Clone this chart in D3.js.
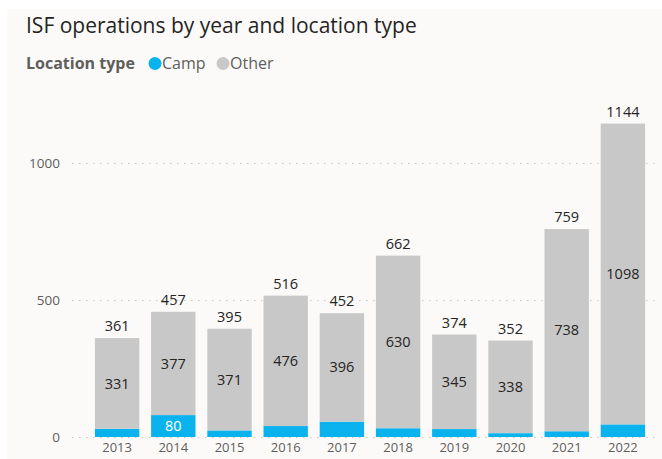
<!DOCTYPE html>
<html>
<head>
<meta charset="utf-8">
<script src="https://cdn.jsdelivr.net/npm/d3@7"></script>
<style>
  body { margin: 0; background: #ffffff; }
  svg { display: block; font-family: "Open Sans", "Noto Sans", sans-serif; }
</style>
</head>
<body>
<svg id="chart" width="662" height="459"></svg>
<script>
// data
const years = ['2013', '2014', '2015', '2016', '2017', '2018', '2019', '2020', '2021', '2022'];
const camp  = [30, 80, 24, 40, 56, 32, 29, 14, 21, 46];
const other = [331, 377, 371, 476, 396, 630, 345, 338, 738, 1098];
const yTicks = [0, 500, 1000];

const colours = { camp: '#0AB3EE', other: '#C8C8C8', text: '#252423', axis: '#605E5C', grid: '#C8C6C4' };

const svg = d3.select('svg#chart');

// panel background
svg.append('rect')
  .attr('x', 7).attr('y', 9)
  .attr('width', 655).attr('height', 450)
  .style('fill', '#FBFAF9');

// title + legend
svg.append('text')
  .attr('x', 26).attr('y', 33)
  .style('font-size', '21px')
  .style('fill', colours.text)
  .text('ISF operations by year and location type');

const legend = svg.append('g').attr('transform', 'translate(26,69)');
legend.append('text')
  .style('font-size', '16px').style('font-weight', 'bold')
  .style('fill', colours.axis)
  .text('Location type');
legend.append('circle').attr('cx', 129).attr('cy', -5.5).attr('r', 6.5).style('fill', colours.camp);
legend.append('text').attr('x', 136).style('font-size', '16px').style('fill', colours.axis).text('Camp');
legend.append('circle').attr('cx', 197).attr('cy', -5.5).attr('r', 6.5).style('fill', colours.other);
legend.append('text').attr('x', 204).style('font-size', '16px').style('fill', colours.axis).text('Other');

// scales
const x = d3.scaleBand()
  .domain(years)
  .range([89, 651])
  .paddingInner(0.21)
  .paddingOuter(0.105);

const y = d3.scaleLinear()
  .domain([0, 1000])
  .range([437, 163]);

// gridlines + y tick labels
const yAxis = svg.append('g')
  .attr('transform', 'translate(72,0)')
  .call(d3.axisLeft(y).tickValues(yTicks).tickSize(-586).tickPadding(12).tickFormat(d3.format('d')));
yAxis.select('.domain').remove();
yAxis.selectAll('line')
  .style('stroke', colours.grid)
  .style('stroke-dasharray', '1.5,5.5');
yAxis.selectAll('text')
  .style('font-size', '13.5px')
  .style('fill', colours.axis)
  .style('font-family', '"Open Sans", sans-serif');

// x axis labels (kept a bit tighter so they stay inside the picture)
const xAxis = svg.append('g')
  .attr('transform', 'translate(0,437)')
  .call(d3.axisBottom(x).tickSize(0).tickPadding(6));
xAxis.select('.domain').remove();
xAxis.selectAll('text')
  .style('font-size', '13px')
  .style('fill', colours.axis)
  .style('font-family', '"Open Sans", sans-serif');

// stacked bars
const rows = years.map(function (d, i) { return { year: d, camp: camp[i], other: other[i], total: camp[i] + other[i] }; });
const stack = d3.stack().keys(['camp', 'other'])(rows);

const layers = svg.selectAll('g.layer')
  .data(stack)
  .enter()
  .append('g')
  .attr('class', 'layer')
  .style('fill', function (d) { return colours[d.key]; });

layers.selectAll('rect')
  .data(function (d) { return d; })
  .enter()
  .append('rect')
  .attr('x', function (d) { return x(d.data.year); })
  .attr('width', x.bandwidth())
  .attr('y', function (d) { return y(d[1]); })
  .attr('height', function (d) { return y(d[0]) - y(d[1]); });

// inner labels for the other segment
svg.append('g').selectAll('text')
  .data(stack[1])
  .enter()
  .append('text')
  .attr('x', function (d) { return x(d.data.year) + x.bandwidth() / 2; })
  .attr('y', function (d) { return (y(d[0]) + y(d[1])) / 2; })
  .attr('dy', '0.35em')
  .attr('text-anchor', 'middle')
  .style('font-size', '14.5px')
  .style('fill', colours.text)
  .text(function (d) { return d[1] - d[0]; });

// camp label only where it fits (2014)
svg.append('g').selectAll('text')
  .data(stack[0].filter(function (d) { return d[1] - d[0] >= 70; }))
  .enter()
  .append('text')
  .attr('x', function (d) { return x(d.data.year) + x.bandwidth() / 2; })
  .attr('y', function (d) { return (y(d[0]) + y(d[1])) / 2; })
  .attr('dy', '0.35em')
  .attr('text-anchor', 'middle')
  .style('font-size', '14.5px')
  .style('fill', '#ffffff')
  .text(function (d) { return d[1] - d[0]; });

// totals above bars
svg.append('g').selectAll('text')
  .data(rows)
  .enter()
  .append('text')
  .attr('x', function (d) { return x(d.year) + x.bandwidth() / 2; })
  .attr('y', function (d) { return y(d.total) - 12; })
  .attr('dy', '0.35em')
  .attr('text-anchor', 'middle')
  .style('font-size', '14.5px')
  .style('fill', colours.text)
  .text(function (d) { return d.total; });
</script>
</body>
</html>
